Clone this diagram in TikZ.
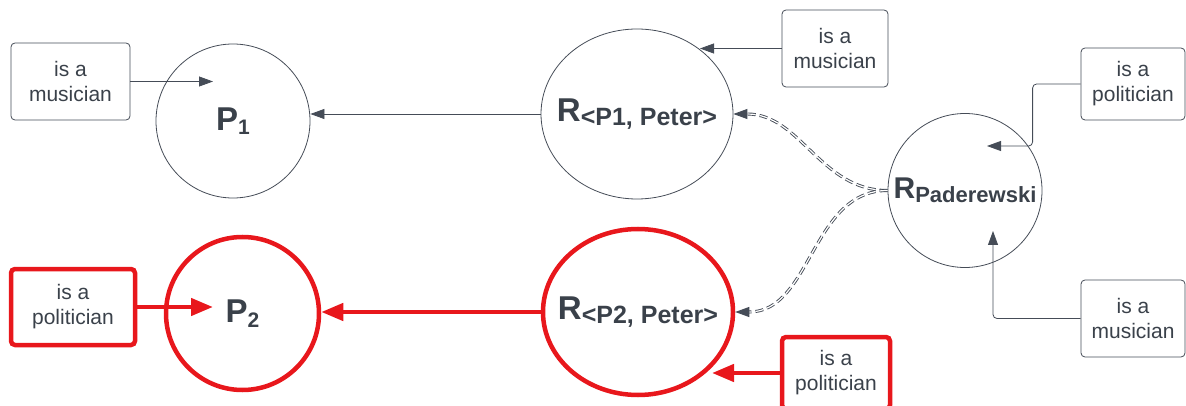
\documentclass[tikz,border=0pt]{standalone}
\usepackage{fontspec}
\setmainfont{Liberation Sans}
\usetikzlibrary{shapes.geometric, arrows.meta, positioning, calc}
\definecolor{inkgray}{HTML}{3A414A}
\definecolor{edgegray}{HTML}{454C57}
\definecolor{hotred}{HTML}{E8171C}

% bold name with a lowered bold index
\newcommand{\relname}[4]{{\fontsize{#3}{#3}\selectfont\bfseries #1}\raisebox{-4.5pt}{\fontsize{#4}{#4}\selectfont\bfseries #2}}

\begin{document}
\begin{tikzpicture}[
    x=1pt, y=-1pt, text=inkgray,
    fact/.style={rectangle, draw=edgegray, rounded corners=4pt, line width=0.8pt, align=center, inner sep=0pt, font=\fontsize{21}{25}\selectfont, minimum width=106pt, minimum height=77pt},
    hotfact/.style={fact, draw=hotred, line width=4.5pt},
    entity/.style={circle, draw=edgegray, line width=0.8pt, minimum size=154pt, inner sep=0pt},
    rel/.style={ellipse, draw=edgegray, line width=0.8pt, minimum width=192pt, minimum height=170pt, inner sep=0pt},
    hot/.style={draw=hotred, line width=4.5pt},
    arrow/.style={-{Triangle[length=14pt, width=10pt]}, draw=edgegray, line width=0.8pt},
    hotarrow/.style={-{Triangle[length=22pt, width=17pt]}, draw=hotred, line width=4.5pt},
    link/.style={-{Triangle[length=14pt, width=10pt]}, draw=edgegray, double=white, double distance=1.2pt, line width=0.9pt, dash pattern=on 8pt off 4pt}
]
    \useasboundingbox (0,0) rectangle (1186,406);

    % People and relations
    \node[entity, label=center:{\relname{P}{1}{33}{21}}] (p1) at (233,121) {};
    \node[rel, label=center:{\relname{R}{<P1, Peter>}{33}{25}}] (r1) at (637,114) {};
    \node[entity, label=center:{\relname{R}{Paderewski}{30}{22}}] (pad) at (965,190.5) {};
    \node[entity, hot, minimum size=153pt, label=center:{\relname{P}{2}{33}{21}}] (p2) at (242.5,313.5) {};
    \node[rel, hot, minimum width=190pt, minimum height=166pt, label=center:{\relname{R}{<P2, Peter>}{33}{25}}] (r2) at (638,312) {};

    % Facts
    \node[fact, minimum width=119pt] (musA) at (70.5,81.5) {is a\\musician};
    \node[fact] (musB) at (835,48.5) {is a\\musician};
    \node[fact, minimum width=104pt, minimum height=72pt] (polA) at (1133,84) {is a\\politician};
    \node[fact, minimum width=104pt] (musC) at (1133,318.5) {is a\\musician};
    \node[hotfact, minimum width=124pt, minimum height=76pt] (polB) at (73,307) {is a\\politician};
    \node[hotfact, minimum width=108pt, minimum height=72pt] (polC) at (836,373) {is a\\politician};

    % Free ends inside the round nodes
    \coordinate (p1in) at (213,81.5);
    \coordinate (r1in) at (700,48.5);
    \coordinate (padtop) at (987,146);
    \coordinate (padbot) at (993,231);
    \coordinate (p2in) at (213,307);
    \coordinate (r2in) at (712,373);

    % Arrows
    \draw[arrow] (musA.east) -- (p1in);
    \draw[arrow] (r1.west) -- (r1.west -| p1.east);
    \draw[arrow] (musB.west) -- (r1in);
    \draw[arrow, rounded corners=4pt] (polA.west) -- ++(-48,0) |- (padtop);
    \draw[arrow, rounded corners=4pt] (musC.west) -| (padbot);
    \draw[link] (pad.west) to[out=180, in=0] (r1.east);
    \draw[link] (pad.west) to[out=180, in=0] (r2.east);
    \draw[hotarrow] (polB.east) -- (p2in);
    \draw[hotarrow] (r2.west) -- (r2.west -| p2.east);
    \draw[hotarrow] (polC.west) -- (r2in);
\end{tikzpicture}
\end{document}
